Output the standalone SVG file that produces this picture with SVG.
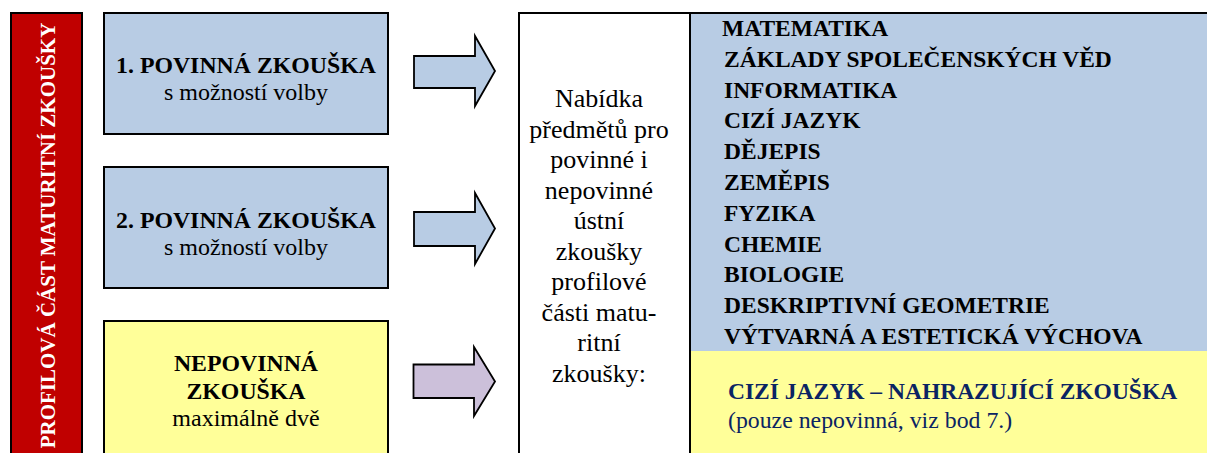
<svg xmlns="http://www.w3.org/2000/svg" width="1207" height="453" viewBox="0 0 1207 453">
<style>
text{font-family:"Liberation Serif","Times New Roman",serif;fill:#000}
.b{font-weight:bold}
.box{stroke:#000;stroke-width:2}
.blue{fill:#B8CCE4}
.yel{fill:#FFFF99}
.arr{stroke:#000;stroke-width:1.8;stroke-linejoin:miter}
.h{font-size:23.8px;font-weight:bold;text-anchor:middle}
.s{font-size:24px;text-anchor:middle}
.m{font-size:26px;text-anchor:middle}
.l{font-size:23.5px;font-weight:bold}
.nv{fill:#0B2463}
</style>
<rect width="1207" height="453" fill="#fff"/>
<g id="side">
<rect class="box" x="11" y="13" width="71" height="460" fill="#C00000"/>
<text class="b" transform="translate(54.5,235.5) rotate(-90)" font-size="21" text-anchor="middle" style="fill:#fff">PROFILOVÁ ČÁST MATURITNÍ ZKOUŠKY</text>
</g>
<g id="box1">
<rect class="box blue" x="104" y="13" width="284" height="121"/>
<text class="h" x="246" y="73">1. POVINNÁ ZKOUŠKA</text>
<text class="s" x="246" y="100">s možností volby</text>
</g>
<g id="box2">
<rect class="box blue" x="104" y="167" width="284" height="121"/>
<text class="h" x="246" y="228">2. POVINNÁ ZKOUŠKA</text>
<text class="s" x="246" y="255">s možností volby</text>
</g>
<g id="box3">
<rect class="box yel" x="104" y="321" width="284" height="150"/>
<text class="h" x="246" y="371">NEPOVINNÁ</text>
<text class="h" x="246" y="399">ZKOUŠKA</text>
<text class="s" x="246" y="426">maximálně dvě</text>
</g>
<g id="connectors">
<polygon class="arr blue" points="414,56 475,56 475,36 495,71 475,106 475,88 414,88"/>
<polygon class="arr blue" points="414,212 475,212 475,193 495,228.5 475,264 475,246 414,246"/>
<polygon class="arr" fill="#CCC0DA" points="413.5,364.5 474,364.5 474,347 495,381.5 474,416 474,398 413.5,398"/>
</g>
<g id="offer">
<rect class="box" x="519" y="13" width="700" height="460" fill="#fff"/>
<text class="m" x="599" y="107">Nabídka</text>
<text class="m" x="599" y="137.5">předmětů pro</text>
<text class="m" x="599" y="168">povinné i</text>
<text class="m" x="599" y="198.5">nepovinné</text>
<text class="m" x="599" y="229">ústní</text>
<text class="m" x="599" y="259.5">zkoušky</text>
<text class="m" x="599" y="290">profilové</text>
<text class="m" x="599" y="320.5">části matu-</text>
<text class="m" x="599" y="351">ritní</text>
<text class="m" x="599" y="381.5">zkoušky:</text>
</g>
<g id="subjects">
<rect class="blue" x="691" y="14" width="520" height="337"/>
<line x1="690" y1="13" x2="690" y2="460" stroke="#000" stroke-width="2"/>
<text class="l" x="722" y="36">MATEMATIKA</text>
<text class="l" x="724" y="66.8">ZÁKLADY SPOLEČENSKÝCH VĚD</text>
<text class="l" x="724" y="97.6">INFORMATIKA</text>
<text class="l" x="724" y="128.4">CIZÍ JAZYK</text>
<text class="l" x="724" y="159.2">DĚJEPIS</text>
<text class="l" x="724" y="190">ZEMĚPIS</text>
<text class="l" x="724" y="220.8">FYZIKA</text>
<text class="l" x="724" y="251.6">CHEMIE</text>
<text class="l" x="724" y="282.4">BIOLOGIE</text>
<text class="l" x="724" y="313.2">DESKRIPTIVNÍ GEOMETRIE</text>
<text class="l" x="724" y="344">VÝTVARNÁ A ESTETICKÁ VÝCHOVA</text>
</g>
<g id="language">
<rect class="yel" x="691" y="351" width="520" height="110"/>
<text class="l nv" x="728" y="399.3" font-size="23.7">CIZÍ JAZYK – NAHRAZUJÍCÍ ZKOUŠKA</text>
<text class="nv" x="728" y="428.3" font-size="23.8">(pouze nepovinná, viz bod 7.)</text>
</g>
</svg>
